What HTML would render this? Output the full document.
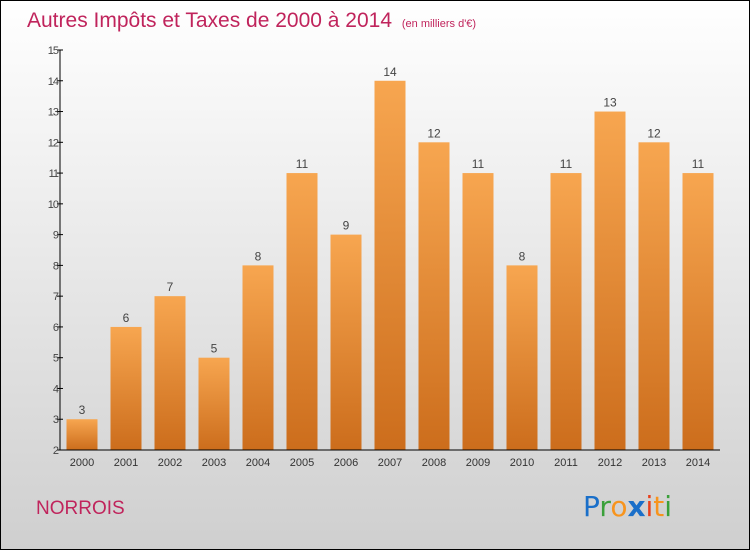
<!DOCTYPE html>
<html><head><meta charset="utf-8"><style>
html,body{margin:0;padding:0;}
body{width:750px;height:550px;overflow:hidden;font-family:"Liberation Sans","DejaVu Sans",sans-serif;}
</style></head><body>
<svg id="chart" width="750" height="550" viewBox="0 0 750 550" xmlns="http://www.w3.org/2000/svg">
<defs>
<linearGradient id="bg" x1="0" y1="0" x2="0" y2="1"><stop offset="0" stop-color="#ffffff"/><stop offset="1" stop-color="#cfcfcf"/></linearGradient>
<linearGradient id="bar" x1="0" y1="0" x2="0" y2="1"><stop offset="0" stop-color="#f7a650"/><stop offset="1" stop-color="#cc6d1c"/></linearGradient>
</defs>
<rect x="0.5" y="0.5" width="749" height="549" fill="url(#bg)" stroke="#000"/>
<text x="27" y="27" font-size="21" fill="#c0245c" font-family="'Liberation Sans',sans-serif">Autres Impôts et Taxes de 2000 à 2014 <tspan font-size="11" dx="4">(en milliers d'€)</tspan></text>
<g id="plot"></g>
<text x="36" y="514" font-size="19" fill="#c0245c" font-family="'Liberation Sans',sans-serif">NORROIS</text>
<g font-size="28" font-family="'DejaVu Sans',sans-serif">
<text x="583" y="516"><tspan fill="#1a6fc9">P</tspan><tspan fill="#3aa03a">r</tspan><tspan fill="#f7941d">o</tspan><tspan fill="#1a6fc9" font-weight="bold">x</tspan><tspan fill="#e8401c">i</tspan><tspan fill="#f7941d">t</tspan><tspan fill="#3aa03a">i</tspan></text>
</g>
</svg>
<script>
const years=["2000","2001","2002","2003","2004","2005","2006","2007","2008","2009","2010","2011","2012","2013","2014"];
const values=[3,6,7,5,8,11,9,14,12,11,8,11,13,12,11];
const yTicks=[2,3,4,5,6,7,8,9,10,11,12,13,14,15];
const NS="http://www.w3.org/2000/svg";
const g=document.getElementById('plot');
const x0=60,x1=720,yMin=2,yMax=15,yTop=50,yBot=450;
const step=(x1-x0)/years.length;
function yS(v){return yBot-(v-yMin)/(yMax-yMin)*(yBot-yTop);}
function xS(i){return x0+step*i+step/2;}
function mk(t,a){const e=document.createElementNS(NS,t);for(const k in a)e.setAttribute(k,a[k]);g.appendChild(e);return e;}
values.forEach((v,i)=>{
 const r=mk('rect',{x:xS(i)-15.5,y:yS(v),width:31,height:yBot-yS(v),fill:'url(#bar)'});
 
 
 const t=mk('text',{x:xS(i),y:yS(v)-5,'font-size':12,'text-anchor':'middle',fill:'#444'});
 t.textContent=v;
 
 
 const xl=mk('text',{x:xS(i),y:466,'font-size':11,'text-anchor':'middle',fill:'#333'});
 xl.textContent=years[i];
 
 
});
const ax=mk('line',{x1:x0,y1:yTop,x2:x0,y2:yBot,stroke:'#000'});


const bx=mk('line',{x1:x0,y1:yBot,x2:x1,y2:yBot,stroke:'#000'});


yTicks.forEach(v=>{
 const tk=mk('line',{x1:x0-3,y1:yS(v),x2:x0+3,y2:yS(v),stroke:'#000'});
 
 
 const tl=mk('text',{x:x0-2,y:yS(v)+4,'font-size':11,'text-anchor':'end',fill:'#444','letter-spacing':'-1'});
 tl.textContent=v;
 
 
});
</script>
</body></html>
